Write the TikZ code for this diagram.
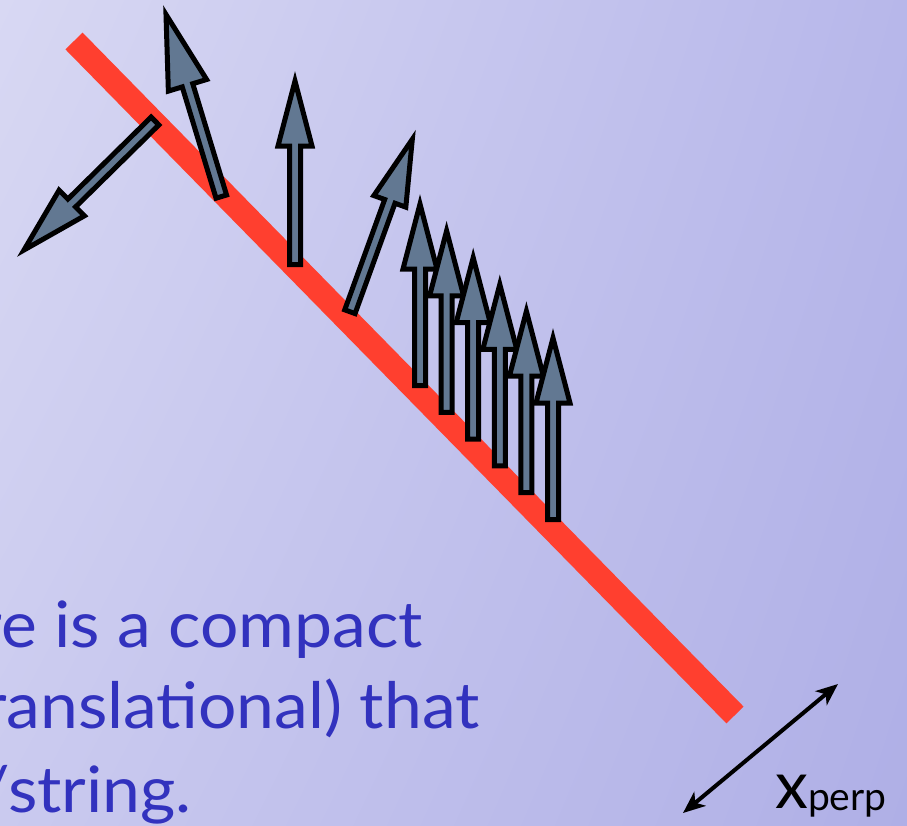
\documentclass[tikz,border=0pt]{standalone}
\usepackage{fontspec}
\setmainfont{Lato}
\usetikzlibrary{calc,arrows.meta,shadings}
\definecolor{bgUL}{HTML}{D8D8F3}
\definecolor{bgUR}{HTML}{B7B7EA}
\definecolor{bgLL}{HTML}{CACAEF}
\definecolor{bgLR}{HTML}{AFAFE6}
\definecolor{redline}{HTML}{FF3F2F}
\definecolor{arrowfill}{HTML}{627892}
\definecolor{txtblue}{HTML}{3232BE}
\tikzset{
  barrow/.style={draw=black, fill=arrowfill, line width=5pt, line join=miter},
  stringline/.style={draw=redline, line width=24pt, line cap=butt},
  bodytext/.style={inner sep=0pt, anchor=base east, text=txtblue, xscale=1.06, font=\fontsize{64}{80}\selectfont},
}
% #1 name, #2 base, #3 tip, #4 head length, #5 head half width
\newcommand\blockarrow[5]{%
  \coordinate (#1b) at #2;
  \coordinate (#1t) at #3;
  \coordinate (#1h) at ($(#1t)!#4pt!(#1b)$);
  \draw[barrow] ($(#1b)!5.5pt!90:(#1t)$) -- ($(#1h)!5.5pt!90:(#1t)$)
    -- ($(#1h)!#5pt!90:(#1t)$) -- (#1t) -- ($(#1h)!#5pt!-90:(#1t)$)
    -- ($(#1h)!5.5pt!-90:(#1t)$) -- ($(#1b)!5.5pt!-90:(#1t)$) -- cycle;
}
\begin{document}
\begin{tikzpicture}[x=1pt,y=-1pt]
\useasboundingbox (0,0) rectangle (907,825);
\clip (0,0) rectangle (907,825);
\shade[upper left=bgUL, upper right=bgUR, lower left=bgLL, lower right=bgLR] (0,825) rectangle (907,0);
% string / brane
\coordinate (s1) at (74,41);
\coordinate (s2) at (735,715);
\draw[stringline] (s1) -- (s2);
% arrows
\blockarrow{A}{(155,121)}{(24,250)}{67}{18}
\blockarrow{B}{(221.3,196.6)}{(166,14.5)}{74}{20}
\blockarrow{C}{(295,264.5)}{(295,81)}{65}{17}
\blockarrow{D}{(349.9,311.7)}{(412.3,139.3)}{66}{17}
\foreach \i in {0,...,5}{
  \pgfmathsetmacro\xx{420+26.6*\i}
  \pgfmathsetmacro\ty{204+26.8*\i}
  \pgfmathsetmacro\by{385.5+26.8*\i}
  \blockarrow{E\i}{(\xx,\by)}{(\xx,\ty)}{65}{17}
}
% x_perp double arrow
\coordinate (p1) at (683,813);
\coordinate (p2) at (838,684);
\draw[line width=4pt, {Stealth[length=22pt,width=18pt,inset=6pt]}-{Stealth[length=22pt,width=18pt,inset=6pt]}] (p1) -- (p2);
\node[inner sep=0pt, anchor=base west] (xlab) at (775,808)
  {\fontsize{66}{66}\selectfont x\fontsize{39}{39}\selectfont\raisebox{-2pt}{perp}};
% text
\node[bodytext] (t1) at (423,647) {re is a compact};
\node[bodytext] (t2) at (480,728) {ranslational) that};
\node[bodytext] (t3) at (192,812) {/string.};
\end{tikzpicture}
\end{document}
